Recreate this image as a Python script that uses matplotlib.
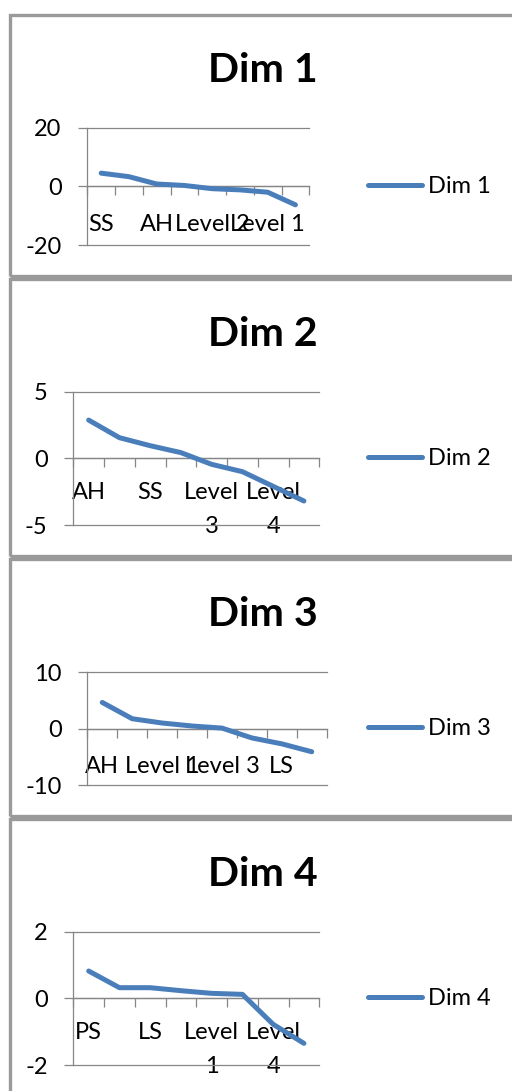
import matplotlib.pyplot as plt
from matplotlib.patches import Rectangle

# Scores per dimension, 8 categories each (Excel only prints every other label)
dim1_labels = ['SS', '', 'AH', '', 'Level 2', '', 'Level 1', '']
dim1_values = [4.5, 3.3, 0.8, 0.3, -0.8, -1.2, -2.0, -6.3]

dim2_labels = ['AH', '', 'SS', '', 'Level\n3', '', 'Level\n4', '']
dim2_values = [2.87, 1.55, 0.95, 0.43, -0.45, -1.0, -2.1, -3.2]

dim3_labels = ['AH', '', 'Level 1', '', 'Level 3', '', 'LS', '']
dim3_values = [4.65, 1.76, 1.0, 0.47, 0.1, -1.65, -2.7, -4.1]

dim4_labels = ['PS', '', 'LS', '', 'Level\n1', '', 'Level\n4', '']
dim4_values = [0.82, 0.32, 0.32, 0.23, 0.15, 0.12, -0.78, -1.35]

dim_names = ['Dim 1', 'Dim 2', 'Dim 3', 'Dim 4']
y_limits = [20, 5, 10, 2]

plt.rcParams['font.family'] = ['Lato', 'DejaVu Sans']
plt.rcParams['axes.unicode_minus'] = False

W, H = 512, 1091
fig = plt.figure(figsize=(W / 100, H / 100), dpi=100)

LINE_BLUE = '#4A7EBB'
AXIS_GRAY = '#868686'
FRAME_GRAY = '#9a9a9a'
TEXT = '#000000'
FS = 17


def px_rect(x0, y0, x1, y1):
    # pixel box (top-left origin) -> figure fraction rect
    return [x0 / W, 1 - y1 / H, (x1 - x0) / W, (y1 - y0) / H]


# frame top/bottom, plot box in pixels, category label pad
layout = [
    ((15, 276), (87.3, 127.7, 309.3, 245.0), 20),
    ((279, 556), (73.3, 391.7, 319.3, 525.0), 17),
    ((559, 816), (87.3, 672.3, 326.7, 785.0), 20),
    ((819, 1110), (73.3, 931.7, 319.3, 1065.0), 17),
]
all_labels = [dim1_labels, dim2_labels, dim3_labels, dim4_labels]
all_values = [dim1_values, dim2_values, dim3_values, dim4_values]

for name, labels, values, ylim, (frame, box, pad) in zip(
        dim_names, all_labels, all_values, y_limits, layout):
    top, bottom = frame
    # chart border
    fig.patches.append(Rectangle((10 / W, 1 - bottom / H), 520 / W, (bottom - top) / H,
                                 transform=fig.transFigure, fill=False,
                                 edgecolor=FRAME_GRAY, linewidth=2.4, clip_on=False))
    # title
    fig.text(263 / W, 1 - (top + 66.7) / H, name, ha='center', va='baseline',
             fontsize=29.5, fontweight='bold', color=TEXT)

    ax = fig.add_axes(px_rect(*box))
    x = list(range(1, len(values) + 1))
    ax.plot(x, values, color=LINE_BLUE, linewidth=3.6, label=name,
            solid_capstyle='round', solid_joinstyle='round', zorder=3)

    ax.set_xlim(0.5, len(values) + 0.5)
    ax.set_ylim(-ylim, ylim)
    ax.set_yticks([-ylim, 0, ylim])
    ax.yaxis.grid(True, color=AXIS_GRAY, linewidth=0.9)
    ax.set_axisbelow(True)
    for gl in ax.get_ygridlines():
        gl.set_clip_on(False)

    for side in ['top', 'right']:
        ax.spines[side].set_visible(False)
    ax.spines['left'].set_color(AXIS_GRAY)
    ax.spines['left'].set_linewidth(0.9)
    ax.spines['bottom'].set_position(('data', 0))
    ax.spines['bottom'].set_color(AXIS_GRAY)
    ax.spines['bottom'].set_linewidth(0.9)

    ax.tick_params(axis='y', direction='out', length=6.5, width=0.9, color=AXIS_GRAY,
                   pad=12, labelsize=FS, labelcolor=TEXT)
    # category boundaries as tick marks, names as minor tick labels
    ax.set_xticks([i + 0.5 for i in range(len(values) + 1)])
    ax.set_xticklabels([])
    ax.set_xticks(x, minor=True)
    ax.set_xticklabels(labels, minor=True, fontsize=FS, color=TEXT,
                       linespacing=1.75)
    ax.tick_params(axis='x', which='major', direction='out', length=6.5, width=0.9,
                   color=AXIS_GRAY)
    ax.tick_params(axis='x', which='minor', length=0, pad=pad)
    ax.set_facecolor('none')

    x0, _, x1, _ = box
    ax.legend(loc='center left', bbox_to_anchor=((368 - x0) / (x1 - x0), 0.5),
              frameon=False, fontsize=FS, handlelength=2.3, handletextpad=0.25,
              borderpad=0, borderaxespad=0, labelcolor=TEXT)

fig.savefig('out.png', dpi=100, facecolor='white')
